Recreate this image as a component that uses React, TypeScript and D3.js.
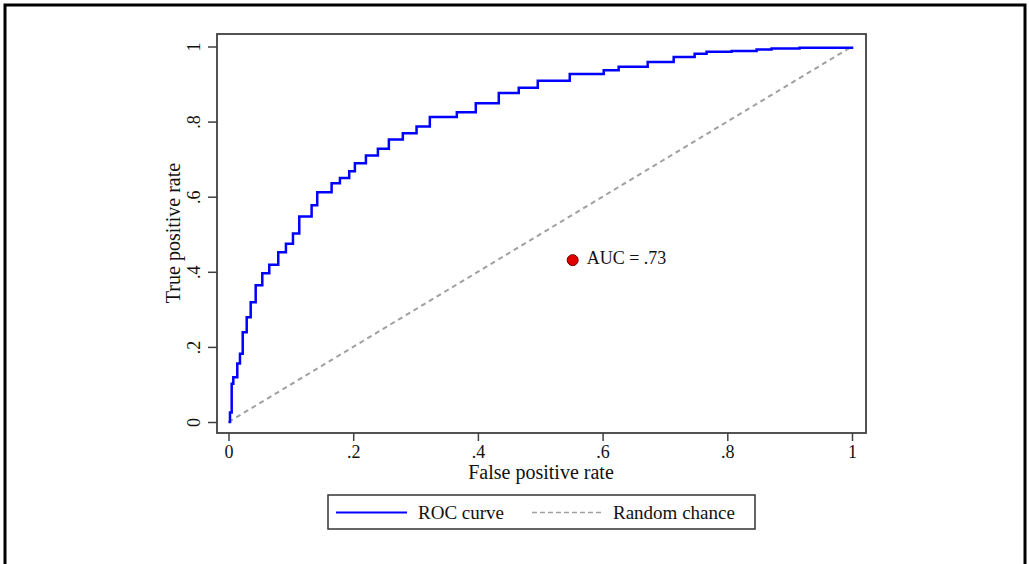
import React, { useEffect, useRef } from 'react';
import * as d3 from 'd3';

// ROC curve (step vertices: fpr, tpr)
const rocFpr = [0, 0.0024, 0.0051, 0.0077, 0.0141, 0.0184, 0.0228, 0.0292, 0.0356, 0.0436, 0.0542, 0.0654,
  0.0798, 0.0921, 0.1034, 0.1135, 0.1333, 0.1423, 0.1654, 0.1787, 0.1936, 0.2027, 0.2204, 0.2396, 0.2572,
  0.2796, 0.3016, 0.3229, 0.3662, 0.3966, 0.4335, 0.4655, 0.496, 0.5473, 0.6018, 0.6258, 0.6723, 0.714,
  0.7476, 0.7668, 0.8069, 0.847, 0.871, 0.9159, 1];
const rocTpr = [0, 0.025, 0.102, 0.119, 0.156, 0.182, 0.239, 0.279, 0.319, 0.364, 0.396, 0.419,
  0.452, 0.475, 0.502, 0.547, 0.577, 0.612, 0.636, 0.65, 0.668, 0.689, 0.71, 0.728, 0.752,
  0.769, 0.787, 0.812, 0.825, 0.849, 0.876, 0.89, 0.909, 0.927, 0.937, 0.946, 0.959, 0.972,
  0.981, 0.986, 0.988, 0.992, 0.995, 0.997, 1];
const chanceFpr = [0, 1];
const chanceTpr = [0, 1];
const aucFpr = 0.552;
const aucTpr = 0.431;
const aucLabel = 'AUC = .73';
const tickValues = [0, 0.2, 0.4, 0.6, 0.8, 1];
const legendLabels = ['ROC curve', 'Random chance'];
const xTitle = 'False positive rate';
const yTitle = 'True positive rate';

const width = 1029, height = 564;
const box = { left: 217, top: 34, right: 866, bottom: 433 };
const blue = '#0000ff', gray = '#a0a0a0', axisCol = '#404040', ink = '#111';
const serif = "'Liberation Serif', 'Times New Roman', serif";

const x = d3.scaleLinear().domain([0, 1]).range([228.5, 852]);
const y = d3.scaleLinear().domain([0, 1]).range([422, 46.5]);

const fmt = (d: number) => (d === 0 ? '0' : d === 1 ? '1' : d3.format('.1f')(d).replace(/^0/, ''));

export default function App() {
  const xAxisRef = useRef<SVGGElement>(null);
  const yAxisRef = useRef<SVGGElement>(null);

  useEffect(() => {
    const xa = d3.select(xAxisRef.current!);
    xa.call(d3.axisBottom(x).tickValues(tickValues).tickSize(8).tickFormat(fmt as any));
    xa.select('.domain').remove();
    xa.selectAll('line').attr('stroke', axisCol).attr('stroke-width', 1.5);
    xa.selectAll('text').attr('y', 25).attr('dy', 0)
      .attr('font-family', serif).attr('font-size', 18).attr('fill', ink);

    const ya = d3.select(yAxisRef.current!);
    ya.call(d3.axisLeft(y).tickValues(tickValues).tickSize(9).tickFormat(fmt as any));
    ya.select('.domain').remove();
    ya.selectAll('line').attr('stroke', axisCol).attr('stroke-width', 1.5);
    ya.selectAll('text').attr('x', 0).attr('dy', 0).attr('text-anchor', 'middle')
      .attr('transform', 'translate(-17,0) rotate(-90)')
      .attr('font-family', serif).attr('font-size', 18).attr('fill', ink);
  }, []);

  const line = d3.line<number>().x(i => x(rocFpr[i])).y(i => y(rocTpr[i])).curve(d3.curveStepAfter);
  const diag = d3.line<number>().x(i => x(chanceFpr[i])).y(i => y(chanceTpr[i]));

  const leg = { x: 328, y: 495, w: 427, h: 34 };

  return (
    <svg width={width} height={height} style={{ position: 'absolute', left: 0, top: 0, background: '#fff' }}>
      <rect x={5} y={5} width={1020} height={570} fill="#fff" stroke="#000" strokeWidth={3} />
      <rect x={box.left} y={box.top} width={box.right - box.left} height={box.bottom - box.top}
        fill="#fff" stroke={axisCol} strokeWidth={1.8} />

      <path d={diag(chanceFpr.map((_, i) => i)) || ''} fill="none" stroke={gray} strokeWidth={2} strokeDasharray="5,4" />
      <path d={line(rocFpr.map((_, i) => i)) || ''} fill="none" stroke={blue} strokeWidth={2.5} />

      <circle cx={x(aucFpr)} cy={y(aucTpr)} r={5.5} fill="#e00000" stroke="#600" strokeWidth={1} />
      <text x={x(aucFpr) + 14} y={y(aucTpr) + 4} fontFamily={serif} fontSize={18} fill={ink}>{aucLabel}</text>

      <g ref={xAxisRef} transform={`translate(0,${box.bottom})`} />
      <g ref={yAxisRef} transform={`translate(${box.left},0)`} />

      <text x={541} y={479} textAnchor="middle" fontFamily={serif} fontSize={20} fill={ink}>{xTitle}</text>
      <text transform={`translate(180,${233}) rotate(-90)`} textAnchor="middle"
        fontFamily={serif} fontSize={20} fill={ink}>{yTitle}</text>

      <rect x={leg.x} y={leg.y} width={leg.w} height={leg.h} fill="#fff" stroke="#333" strokeWidth={1.5} />
      <line x1={336} x2={407} y1={512.5} y2={512.5} stroke={blue} strokeWidth={2} />
      <text x={418} y={519} fontFamily={serif} fontSize={19} fill={ink}>{legendLabels[0]}</text>
      <line x1={532} x2={602} y1={512.5} y2={512.5} stroke={gray} strokeWidth={1.5} strokeDasharray="5,3" />
      <text x={613} y={519} fontFamily={serif} fontSize={19} fill={ink}>{legendLabels[1]}</text>
    </svg>
  );
}
